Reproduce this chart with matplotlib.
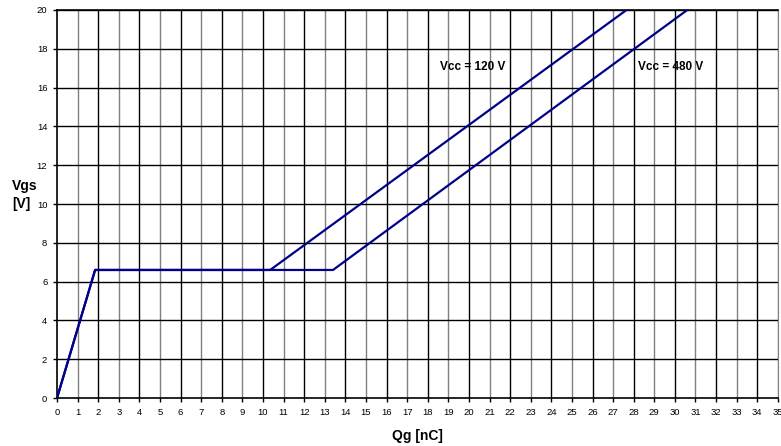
import matplotlib
matplotlib.use("Agg")
import matplotlib.pyplot as plt

plt.rcParams['font.family'] = ['Liberation Sans', 'DejaVu Sans']

# gate charge curves
qg_120 = [0, 1.85, 10.35, 27.65]
vgs_120 = [0, 6.6, 6.6, 20]
qg_480 = [0, 1.85, 13.4, 30.6]
vgs_480 = [0, 6.6, 6.6, 20]

x_ticks = list(range(0, 36))
y_ticks = list(range(0, 21, 2))

labels = ["Vcc = 120 V", "Vcc = 480 V"]
label_pos = [(18.6, 17.05), (28.2, 17.05)]

fig = plt.figure(figsize=(7.81, 4.46), dpi=100)
ax = fig.add_axes([0.073, 0.1076, 0.923, 0.870])

# grid: odd x lines gray, even x lines black
for x in x_ticks[1:]:
    ax.axvline(x, color='#000000' if x % 2 == 0 else '#808080', lw=1.0, zorder=1)
for y in y_ticks[1:]:
    ax.axhline(y, color='#000000', lw=1.0, zorder=1)

line_color = '#00008b'
ax.plot(qg_120, vgs_120, color=line_color, lw=1.6, zorder=3)
ax.plot(qg_480, vgs_480, color=line_color, lw=1.6, zorder=3)

for txt, (x, y) in zip(labels, label_pos):
    ax.text(x, y, txt, fontsize=8.5, fontweight='bold', va='center', ha='left', zorder=4)

ax.set_xlim(0, 35)
ax.set_ylim(0, 20)
ax.set_xticks(x_ticks)
ax.set_yticks(y_ticks)
ax.tick_params(axis='both', labelsize=6.8, length=3, width=1, direction='out', pad=4)

for side in ['left', 'bottom', 'top']:
    ax.spines[side].set_color('#000000')
    ax.spines[side].set_linewidth(1.2)
ax.spines['right'].set_color('#808080')

fig.text(417 / 781, 1 - 436 / 446, "Qg [nC]", fontsize=10, fontweight='bold', ha='center', va='center')
fig.text(12 / 781, 1 - 195 / 446, "Vgs\n[V]", fontsize=10, fontweight='bold', ha='left', va='center',
         multialignment='left', linespacing=1.3)

fig.savefig("out.png", dpi=100)
